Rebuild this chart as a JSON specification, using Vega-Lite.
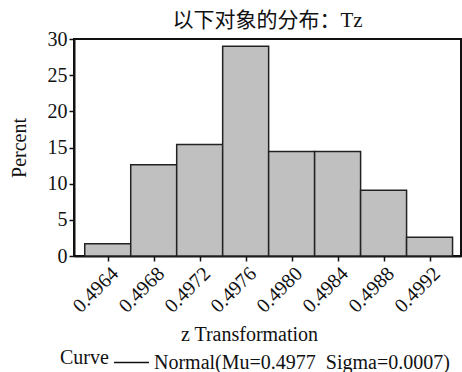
{
  "$schema": "https://vega.github.io/schema/vega-lite/v6.json",
  "autosize": "none",
  "width": 387,
  "height": 217,
  "padding": {"left": 74, "top": 39, "right": 1, "bottom": 116},
  "background": "white",
  "title": {
    "text": "以下对象的分布：Tz",
    "font": "Liberation Serif, Noto Sans CJK SC",
    "fontSize": 21,
    "fontWeight": "normal",
    "color": "#111",
    "offset": -2,
    "anchor": "middle"
  },
  "config": {
    "view": {"stroke": "#111", "strokeWidth": 2},
    "axis": {
      "labelFont": "Liberation Serif",
      "titleFont": "Liberation Serif",
      "labelColor": "#111",
      "titleColor": "#111",
      "domainColor": "#111",
      "tickColor": "#111",
      "grid": false,
      "titleFontWeight": "normal"
    }
  },
  "data": {
    "values": [
      {"start": 0.4962, "end": 0.4966, "percent": 1.7, "curve": "Normal(Mu=0.4977\u00a0 Sigma=0.0007)"},
      {"start": 0.4966, "end": 0.4970, "percent": 12.6, "curve": "Normal(Mu=0.4977\u00a0 Sigma=0.0007)"},
      {"start": 0.4970, "end": 0.4974, "percent": 15.4, "curve": "Normal(Mu=0.4977\u00a0 Sigma=0.0007)"},
      {"start": 0.4974, "end": 0.4978, "percent": 29.0, "curve": "Normal(Mu=0.4977\u00a0 Sigma=0.0007)"},
      {"start": 0.4978, "end": 0.4982, "percent": 14.45, "curve": "Normal(Mu=0.4977\u00a0 Sigma=0.0007)"},
      {"start": 0.4982, "end": 0.4986, "percent": 14.45, "curve": "Normal(Mu=0.4977\u00a0 Sigma=0.0007)"},
      {"start": 0.4986, "end": 0.4990, "percent": 9.1, "curve": "Normal(Mu=0.4977\u00a0 Sigma=0.0007)"},
      {"start": 0.4990, "end": 0.4994, "percent": 2.6, "curve": "Normal(Mu=0.4977\u00a0 Sigma=0.0007)"}
    ]
  },
  "mark": {"type": "bar", "stroke": "#222", "strokeWidth": 1.5, "orient": "vertical"},
  "encoding": {
    "x": {
      "field": "start",
      "type": "quantitative",
      "scale": {"domain": [0.49615, 0.49943], "nice": false, "zero": false},
      "axis": {
        "values": [0.4964, 0.4968, 0.4972, 0.4976, 0.4980, 0.4984, 0.4988, 0.4992],
        "format": ".4f",
        "labelAngle": -45,
        "labelFont": "Liberation Serif",
        "labelFontSize": 20,
        "labelPadding": 2,
        "labelDx": 9,
        "labelDy": 2,
        "labelOverlap": false,
        "labelBound": false,
        "tickSize": 5,
        "tickWidth": 1.5,
        "domainWidth": 2,
        "title": "z Transformation",
        "titleFont": "Liberation Serif",
        "titleFontSize": 20,
        "titlePadding": 8,
        "titleX": 175
      }
    },
    "x2": {"field": "end"},
    "y": {
      "field": "percent",
      "type": "quantitative",
      "scale": {"domain": [0, 30], "nice": false},
      "axis": {
        "values": [0, 5, 10, 15, 20, 25, 30],
        "labelFont": "Liberation Serif",
        "labelFontSize": 20,
        "labelPadding": 2,
        "labelOverlap": false,
        "tickSize": 5,
        "tickWidth": 1.5,
        "domainWidth": 2,
        "title": "Percent",
        "titleFont": "Liberation Serif",
        "titleFontSize": 20,
        "titlePadding": 18
      }
    },
    "y2": {"datum": 0},
    "fill": {
      "field": "curve",
      "type": "nominal",
      "scale": {"range": ["#c0c0c0"]},
      "legend": {
        "title": "Curve",
        "titleOrient": "left",
        "titleAnchor": "middle",
        "titleBaseline": "middle",
        "titleFont": "Liberation Serif",
        "titleFontSize": 20,
        "titleFontWeight": "normal",
        "titleColor": "#111",
        "titlePadding": 4,
        "labelFont": "Liberation Serif",
        "labelFontSize": 20,
        "labelColor": "#111",
        "labelLimit": 400,
        "labelOffset": 4,
        "labelBaseline": "middle",
        "symbolType": "stroke",
        "symbolStrokeColor": "#111",
        "symbolStrokeWidth": 1.5,
        "symbolSize": 1225,
        "orient": "none",
        "legendX": -14,
        "legendY": 305
      }
    }
  }
}
